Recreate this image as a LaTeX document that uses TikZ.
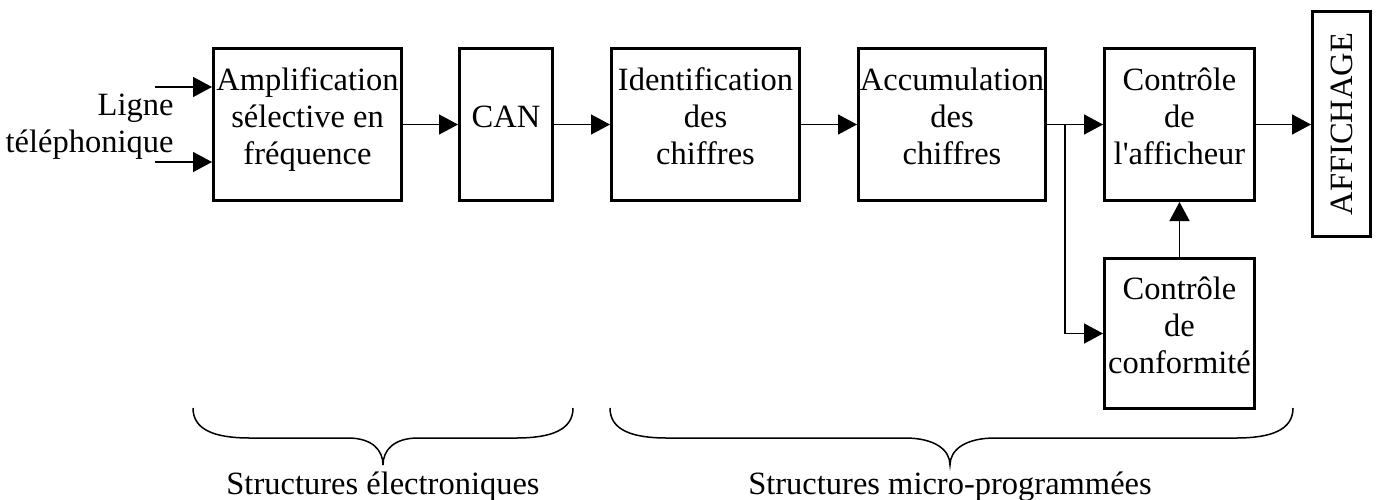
\documentclass[tikz,border=0pt]{standalone}
\usepackage{fontspec}
\setmainfont{Liberation Serif}
\usetikzlibrary{arrows.meta}

\begin{document}
\begin{tikzpicture}[x=1pt, y=-1pt, align=center,
	font=\fontsize{32.5}{37}\selectfont,
	bloc/.style={draw, line width=3pt, inner sep=0pt, minimum height=152pt, text depth=16pt},
	fleche/.style={line width=1.5pt, -{Triangle[length=19pt, width=20pt]}},
	accolade/.style={line width=1.5pt}]

	\useasboundingbox (0,0) rectangle (1381,499);

	\node[bloc, minimum width=188pt] (amp) at (307.5,124.5) {Amplification\\sélective en\\fréquence};
	\node[bloc, minimum width=93pt] (can) at (506,124.5) {CAN};
	\node[bloc, minimum width=188pt] (ident) at (705.5,124.5) {Identification\\des\\chiffres};
	\node[bloc, minimum width=187pt] (accu) at (952,124.5) {Accumulation\\des\\chiffres};
	\node[bloc, minimum width=150pt] (aff) at (1179.5,124.5) {Contrôle\\de\\l\textquotesingle afficheur};
	\node[bloc, minimum width=150pt, minimum height=150pt] (conf) at (1179.5,333.5) {Contrôle\\de\\conformité};
	\node[bloc, rotate=90, text depth=0pt, minimum width=225pt, minimum height=58pt] (disp) at (1341.5,124) {AFFICHAGE};

	% entrees
	\coordinate (in1) at (155,87);
	\coordinate (in2) at (155,162);
	\node[anchor=east, align=right] (ligne) at (177,127) {Ligne\\téléphonique};
	\draw[fleche] (in1) -- (in1 -| amp.west);
	\draw[fleche] (in2) -- (in2 -| amp.west);

	\draw[fleche] (amp) -- (can);
	\draw[fleche] (can) -- (ident);
	\draw[fleche] (ident) -- (accu);
	\draw[fleche] (accu) -- (aff);
	\draw[fleche] (aff) -- (aff -| disp.north);
	\draw[fleche] (conf) -- (aff);
	\coordinate (br) at (1065,124.5);
	\draw[fleche] (br) |- (conf.west);

	% accolades
	\draw[accolade] (193,408) .. controls (193,430) and (215,438) .. (250,438) -- (348,438)
		.. controls (372,438) and (383,450) .. (383,465)
		.. controls (383,450) and (394,438) .. (418,438) -- (516,438)
		.. controls (551,438) and (573,430) .. (573,408);
	\draw[accolade] (610,408) .. controls (610,430) and (632,438) .. (667,438) -- (905,438)
		.. controls (935,438) and (950,450) .. (950,465)
		.. controls (950,450) and (965,438) .. (995,438) -- (1236,438)
		.. controls (1271,438) and (1293,430) .. (1293,408);

	\node[anchor=base] (elec) at (383,494) {Structures électroniques};
	\node[anchor=base] (micro) at (950,494) {Structures micro-programmées};
\end{tikzpicture}
\end{document}
